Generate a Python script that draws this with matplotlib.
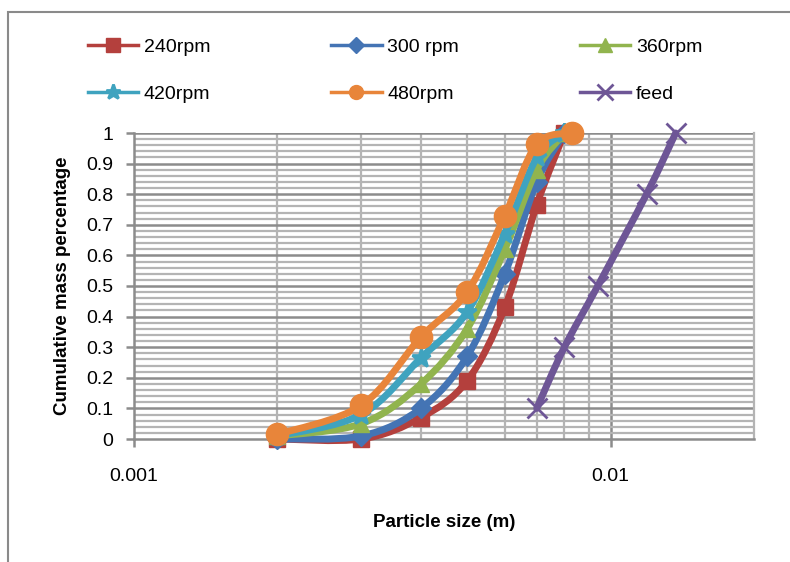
import numpy as np
import matplotlib
matplotlib.use("Agg")
import matplotlib.pyplot as plt
from matplotlib.patches import Rectangle, PathPatch
from matplotlib.path import Path
from matplotlib.ticker import FixedLocator, NullFormatter, FixedFormatter

plt.rcParams['font.family'] = ['Liberation Sans', 'DejaVu Sans']

# sieve sizes (m) and cumulative mass fractions
size_rpm = [0.002, 0.003, 0.004, 0.005, 0.006, 0.007, 0.008]
size_480 = [0.002, 0.003, 0.004, 0.005, 0.006, 0.007, 0.0083]
cum_240 = [0.0, 0.0, 0.07, 0.19, 0.43, 0.765, 1.0]
cum_300 = [0.0, 0.01, 0.10, 0.27, 0.54, 0.84, 1.0]
cum_360 = [0.01, 0.05, 0.18, 0.36, 0.62, 0.88, 1.0]
cum_420 = [0.01, 0.08, 0.265, 0.415, 0.67, 0.92, 1.0]
cum_480 = [0.015, 0.11, 0.333, 0.48, 0.73, 0.963, 1.0]
size_feed = [0.007, 0.008, 0.0094, 0.0119, 0.0137]
cum_feed = [0.1, 0.3, 0.5, 0.8, 1.0]


def smooth_path(x, y):
    # Excel-style smoothed line: cubic bezier through the points, built in log-x space
    lx = np.log10(x)
    y = np.asarray(y, float)
    n = len(lx)
    verts = [(x[0], y[0])]
    codes = [Path.MOVETO]
    for i in range(n - 1):
        a = max(i - 1, 0)
        b = min(i + 2, n - 1)
        c1 = (lx[i] + (lx[i + 1] - lx[a]) / 6, y[i] + (y[i + 1] - y[a]) / 6)
        c2 = (lx[i + 1] - (lx[b] - lx[i]) / 6, y[i + 1] - (y[b] - y[i]) / 6)
        verts += [(10 ** c1[0], c1[1]), (10 ** c2[0], c2[1]), (x[i + 1], y[i + 1])]
        codes += [Path.CURVE4] * 3
    return Path(verts, codes)


fig = plt.figure(figsize=(7.9, 5.62), dpi=100)
fig.patches.append(Rectangle((8 / 790, -0.1), 1.2, 1 - 12 / 562 + 0.1,
                             transform=fig.transFigure, fill=False,
                             edgecolor='#8a8a8a', linewidth=1.5))
ax = fig.add_axes([134 / 790, 1 - 439 / 562, (754 - 134) / 790, (439 - 133) / 562])

ax.set_xscale('log')
ax.set_xlim(0.001, 0.02)
ax.set_ylim(0, 1)

# grid
minor_x = [0.002, 0.003, 0.004, 0.005, 0.006, 0.007, 0.008, 0.009]
for v in minor_x:
    ax.axvline(v, color='#b4b4b4', lw=1.6, zorder=0)
ax.axvline(0.01, color='#8c8c8c', lw=1.8, zorder=0)
for v in np.arange(0.02, 1.0, 0.02):
    if round(v * 50) % 5 != 0:
        ax.axhline(v, color='#b4b4b4', lw=1.6, zorder=0)
for v in np.arange(0.1, 1.01, 0.1):
    ax.axhline(v, color='#8c8c8c', lw=1.8, zorder=0)

ax.spines['top'].set_visible(False)
ax.spines['right'].set_color('#b4b4b4')
ax.spines['right'].set_linewidth(1.6)
ax.spines['left'].set_color('#8c8c8c')
ax.spines['bottom'].set_color('#8c8c8c')
ax.spines['left'].set_linewidth(1.8)
ax.spines['bottom'].set_linewidth(1.8)

series = [
    (size_rpm, cum_240, '240rpm', '#b4403d', 's', 12),
    (size_rpm, cum_300, '300 rpm', '#4474b4', 'D', 10),
    (size_rpm, cum_360, '360rpm', '#91b44e', '^', 12),
    (size_rpm, cum_420, '420rpm', '#3fa3bf', '*', 14),
    (size_480, cum_480, '480rpm', '#e8853a', 'o', 16),
    (size_feed, cum_feed, 'feed', '#6e5696', 'x', 14),
]
handles = {}
for x, y, lab, col, mk, ms in series:
    mew = 2 if mk in ('x', '*') else 1
    ax.add_patch(PathPatch(smooth_path(x, y), fill=False, edgecolor=col, lw=5,
                           capstyle='round', joinstyle='round', clip_on=False, zorder=3))
    ax.plot(x, y, ls='none', marker=mk, ms=ms, mfc=col, mec=col,
            mew=mew, clip_on=False, zorder=3)
    h, = plt.plot([], [], color=col, lw=2.5, marker=mk,
                  ms=ms * 0.8 if mk != 'o' else 10, mfc=col, mec=col, mew=mew)
    handles[lab] = h

ax.xaxis.set_major_locator(FixedLocator([0.001, 0.01]))
ax.xaxis.set_major_formatter(FixedFormatter(['0.001', '0.01']))
ax.xaxis.set_minor_locator(FixedLocator([]))
ax.xaxis.set_minor_formatter(NullFormatter())
ax.tick_params(axis='x', which='major', length=6, width=1.8, color='#8c8c8c',
               pad=15, labelsize=14)
ax.set_yticks(np.arange(0, 1.01, 0.1))
ax.set_yticklabels(['0', '0.1', '0.2', '0.3', '0.4', '0.5', '0.6', '0.7', '0.8', '0.9', '1'])
ax.tick_params(axis='y', length=6, width=1.8, color='#8c8c8c', pad=9, labelsize=14)

ax.set_xlabel('Particle size (m)', fontsize=13.5, fontweight='bold', labelpad=21)
ax.set_ylabel('Cumulative mass percentage', fontsize=13.5, fontweight='bold', labelpad=11)

order = ['240rpm', '420rpm', '300 rpm', '480rpm', '360rpm', 'feed']
fig.legend([handles[k] for k in order], order, ncol=3, frameon=False,
           loc='upper left', bbox_to_anchor=(70 / 790, 1 - 21 / 562),
           fontsize=14, handlelength=2.6, handletextpad=0.3,
           columnspacing=6.2, labelspacing=1.5)

fig.savefig('out.png', dpi=100)
